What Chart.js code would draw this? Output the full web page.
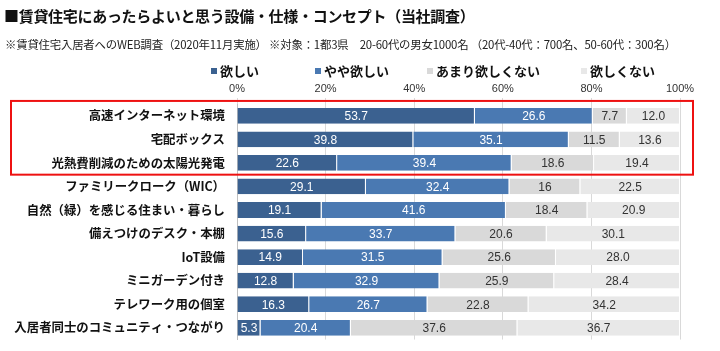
<!DOCTYPE html>
<html lang="ja">
<head>
<meta charset="utf-8">
<script src="https://cdn.jsdelivr.net/npm/chart.js@4/dist/chart.umd.min.js"></script>
<style>
  body { margin: 0; background: #fff; font-family: "Noto Sans CJK JP", sans-serif; }
  #wrap { position: relative; width: 720px; height: 351px; overflow: hidden; }
  #titulo { position: absolute; left: 4px; top: 5px; font-size: 15px; font-weight: bold; color: #111; letter-spacing: -0.3px; white-space: nowrap; }
  #sub { position: absolute; left: 5px; top: 36px; font-size: 11.4px; color: #222; white-space: nowrap; letter-spacing: -0.2px; }
  .ley { position: absolute; top: 61px; font-size: 13px; font-weight: bold; color: #111; white-space: nowrap; }
  .ley i { display: inline-block; width: 6px; height: 6px; margin-right: 3px; vertical-align: 2px; }
  canvas { position: absolute; left: 0; top: 0; }
</style>
</head>
<body>
<div id="wrap">
  <canvas id="grafico" width="720" height="351"></canvas>
  <div id="titulo">■賃貸住宅にあったらよいと思う設備・仕様・コンセプト（当社調査）</div>
  <div id="sub">※賃貸住宅入居者へのWEB調査（2020年11月実施） ※対象：1都3県　20-60代の男女1000名 （20代-40代：700名、50-60代：300名）</div>
  <div id="leyenda"></div>
</div>
<script>
// categorías
const items = [
  '高速インターネット環境',
  '宅配ボックス',
  '光熱費削減のための太陽光発電',
  'ファミリークローク（WIC）',
  '自然（緑）を感じる住まい・暮らし',
  '備えつけのデスク・本棚',
  'IoT設備',
  'ミニガーデン付き',
  'テレワーク用の個室',
  '入居者同士のコミュニティ・つながり'
];

// valores (%), como texto para conservar el formato original
const hoshii      = ['53.7', '39.8', '22.6', '29.1', '19.1', '15.6', '14.9', '12.8', '16.3', '5.3'];
const yaya        = ['26.6', '35.1', '39.4', '32.4', '41.6', '33.7', '31.5', '32.9', '26.7', '20.4'];
const amari       = ['7.7', '11.5', '18.6', '16', '18.4', '20.6', '25.6', '25.9', '22.8', '37.6'];
const hoshikunai  = ['12.0', '13.6', '19.4', '22.5', '20.9', '30.1', '28.0', '28.4', '34.2', '36.7'];

const series = ['欲しい', 'やや欲しい', 'あまり欲しくない', '欲しくない'];
const colores = ['#3b6190', '#4a79b2', '#d9d9d9', '#e8e8e8'];
const colorTexto = ['#ffffff', '#ffffff', '#333333', '#333333'];
const ticksX = [0, 20, 40, 60, 80, 100];

// leyenda en HTML
const posLeyenda = [211, 315, 427, 581];
const leyenda = document.getElementById('leyenda');
series.forEach((s, i) => {
  const d = document.createElement('div');
  d.className = 'ley';
  d.style.left = posLeyenda[i] + 'px';
  d.innerHTML = `<i style="background:${colores[i]}"></i>${s}`;
  leyenda.appendChild(d);
});

// etiquetas de valores
const etiquetas = {
  id: 'etiquetas',
  afterDatasetsDraw(chart) {
    const c = chart.ctx;
    c.save();
    c.font = '12px "Liberation Sans", Arial, sans-serif';
    c.textAlign = 'center';
    c.textBaseline = 'middle';
    chart.data.datasets.forEach((ds, i) => {
      chart.getDatasetMeta(i).data.forEach((bar, j) => {
        c.fillStyle = colorTexto[i];
        c.fillText(ds.data[j], (bar.x + bar.base) / 2, bar.y + 1);
      });
    });
    c.restore();
  }
};

// recuadro rojo sobre los tres primeros
const recuadro = {
  id: 'recuadro',
  afterDraw(chart) {
    const y = chart.scales.y;
    const paso = y.getPixelForValue(1) - y.getPixelForValue(0);
    const arriba = y.getPixelForValue(0) - paso * 0.63;
    const abajo = y.getPixelForValue(2) + paso * 0.5;
    const c = chart.ctx;
    c.save();
    c.strokeStyle = '#ee1111';
    c.lineWidth = 2;
    c.strokeRect(11, arriba, 682, abajo - arriba);
    c.restore();
  }
};

const ctx = document.getElementById('grafico').getContext('2d');
new Chart(ctx, {
  type: 'bar',
  data: {
    labels: items,
    datasets: [hoshii, yaya, amari, hoshikunai].map((d, i) => ({
      label: series[i],
      data: d,
      backgroundColor: colores[i],
      borderColor: '#ffffff',
      borderWidth: { left: 0, right: 1, top: 0, bottom: 0 },
      borderSkipped: false,
      categoryPercentage: 1,
      barPercentage: 0.67
    }))
  },
  options: {
    indexAxis: 'y',
    responsive: false,
    animation: false,
    layout: { padding: { top: 78, right: 40, bottom: 9, left: 0 } },
    plugins: {
      legend: { display: false },
      tooltip: { enabled: false }
    },
    scales: {
      x: {
        position: 'top',
        stacked: true,
        min: 0,
        max: 100,
        afterBuildTicks: s => { s.ticks = ticksX.map(v => ({ value: v })); },
        afterFit: s => { s.height = 26; },
        ticks: {
          callback: v => v + '%',
          color: '#333',
          padding: 2,
          font: { family: '"Liberation Sans", Arial, sans-serif', size: 11 }
        },
        grid: { color: '#d9d9d9', tickLength: 6 },
        border: { display: false }
      },
      y: {
        stacked: true,
        afterFit: s => { s.width = 237; },
        ticks: {
          color: '#111',
          padding: 4,
          font: { family: '"Noto Sans CJK JP", sans-serif', size: 12.4, weight: 'bold' }
        },
        grid: { display: false },
        border: { color: '#bfbfbf' }
      }
    }
  },
  plugins: [etiquetas, recuadro]
});
</script>
</body>
</html>
